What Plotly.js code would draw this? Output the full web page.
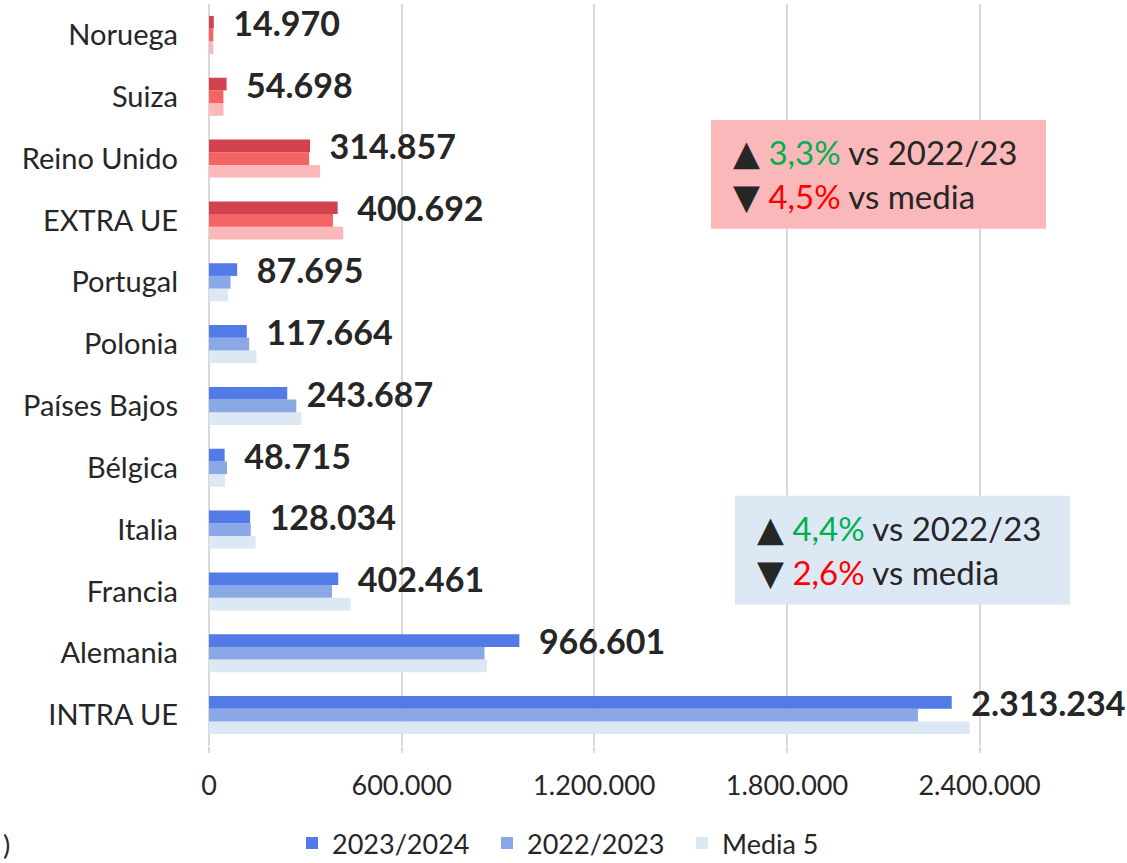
<!DOCTYPE html>
<html>
<head>
<meta charset="utf-8">
<script src="https://cdn.plot.ly/plotly-3.0.1.min.js"></script>
<style>html,body{margin:0;padding:0;background:#fff;}#chart{width:1127px;height:863px;}</style>
</head>
<body>
<div id="chart"></div>
<script>
// Data (bottom to top)
const categories = ['INTRA UE','Alemania','Francia','Italia','Bélgica','Países Bajos','Polonia','Portugal','EXTRA UE','Reino Unido','Suiza','Noruega'];
const region = ['UE','UE','UE','UE','UE','UE','UE','UE','EXTRA','EXTRA','EXTRA','EXTRA'];
const s2023_2024 = [2313234, 966601, 402461, 128034, 48715, 243687, 117664, 87695, 400692, 314857, 54698, 14970];
const s2022_2023 = [2208000, 858000, 383000, 130000, 56000, 272000, 125000, 67000, 386000, 312000, 45000, 13500];
const media5 = [2369000, 866000, 441000, 145000, 50000, 288000, 148000, 60000, 418000, 346000, 45000, 13500];
const seriesNames = ['2023/2024', '2022/2023', 'Media 5'];
const xTickVals = [0, 600000, 1200000, 1800000, 2400000];

const palette = {
  '2023/2024': {UE: '#527be8', EXTRA: '#d24350'},
  '2022/2023': {UE: '#8aa7e6', EXTRA: '#f36565'},
  'Media 5':   {UE: '#dde8f5', EXTRA: '#fab8ba'}
};
const FONT = 'Lato, "Open Sans", sans-serif';
const TXT = '#262626';

function colorsFor(name){ return region.map(r => palette[name][r]); }

const traces = [
  {type:'bar', orientation:'h', name: seriesNames[2], y: categories, x: media5,
   marker:{color: colorsFor('Media 5')}, hoverinfo:'x'},
  {type:'bar', orientation:'h', name: seriesNames[1], y: categories, x: s2022_2023,
   marker:{color: colorsFor('2022/2023')}, hoverinfo:'x'},
  {type:'bar', orientation:'h', name: seriesNames[0], y: categories, x: s2023_2024,
   marker:{color: colorsFor('2023/2024')},
   texttemplate: '\u00A0\u00A0%{x:,.0f}', textposition:'outside', constraintext:'none', cliponaxis:false,
   textfont:{family: FONT, size: 34, color: TXT, weight: 'bold'}, hoverinfo:'x'}
];

// plot area in pixels: x 209..1108, y 4..746.5
const L = 209, R = 1108, T = 4, B = 746.5;
const px = x => (x - L) / (R - L);
const py = y => 1 - (y - T) / (B - T);

const boxes = [
  {x0: 711, x1: 1046, y0: 120, y1: 229, fill: '#fab8ba', up: '3,3%', down: '4,5%'},
  {x0: 735, x1: 1070, y0: 496, y1: 605, fill: '#dde8f5', up: '4,4%', down: '2,6%'}
];
const shapes = boxes.map(b => ({type:'rect', xref:'paper', yref:'paper', x0: px(b.x0), x1: px(b.x1), y0: py(b.y1), y1: py(b.y0),
  fillcolor: b.fill, line:{width:0}, layer:'above'}));
const annotations = [];
const TRI = s => '<span style="font-family:\'DejaVu Sans\';font-size:35px">' + s + '</span>';
boxes.forEach(b => {
  const midL1 = b.y0 + 33, midL2 = b.y0 + 77;
  annotations.push({xref:'paper', yref:'paper', x: px(b.x0 + 20), y: py(midL1), xanchor:'left', yanchor:'middle', showarrow:false,
    text: TRI('▲') + ' <span style="color:#00b050">' + b.up + '</span> vs 2022/23', font:{family: FONT, size: 33, color: TXT}});
  annotations.push({xref:'paper', yref:'paper', x: px(b.x0 + 20), y: py(midL2), xanchor:'left', yanchor:'middle', showarrow:false,
    text: TRI('▼') + ' <span style="color:#ff0000">' + b.down + '</span> vs media', font:{family: FONT, size: 33, color: TXT}});
});
annotations.push({xref:'paper', yref:'paper', x: px(1), y: py(845), xanchor:'left', yanchor:'middle', showarrow:false,
  text: ')', font:{family: FONT, size: 27, color: TXT}});

const layout = {
  width: 1127, height: 863,
  margin: {l: L, r: 1127 - R, t: T, b: 863 - B, pad: 0, autoexpand: false},
  paper_bgcolor: '#ffffff', plot_bgcolor: '#ffffff',
  separators: ',.',
  barmode: 'group', bargap: 0.385, bargroupgap: 0,
  font: {family: FONT, color: TXT},
  xaxis: {range: [0, 2800000], tickvals: xTickVals, tickformat: ',.0f', automargin: false,
    showgrid: true, gridcolor: '#d9d9d9', gridwidth: 2,
    zeroline: true, zerolinecolor: '#d9d9d9', zerolinewidth: 2,
    ticks: 'outside', ticklen: 6, tickcolor: '#d9d9d9', tickwidth: 2, ticklabelstandoff: 10,
    tickfont: {family: FONT, size: 27, color: TXT}, showline: false, fixedrange: true},
  yaxis: {type: 'category', showgrid: false, zeroline: false, ticks: '', ticklabelstandoff: 30, automargin: false,
    tickfont: {family: FONT, size: 29, color: TXT}, showline: false, fixedrange: true},
  legend: {orientation: 'h', traceorder: 'reversed', x: px(292), y: py(844), xanchor: 'left', yanchor: 'middle',
    entrywidth: 150, entrywidthmode: 'pixels',
    font: {family: FONT, size: 27, color: TXT}, bgcolor: 'rgba(0,0,0,0)'},
  shapes: shapes,
  annotations: annotations,
  showlegend: true
};

Plotly.newPlot('chart', traces, layout, {displayModeBar: false, staticPlot: true});
</script>
</body>
</html>
